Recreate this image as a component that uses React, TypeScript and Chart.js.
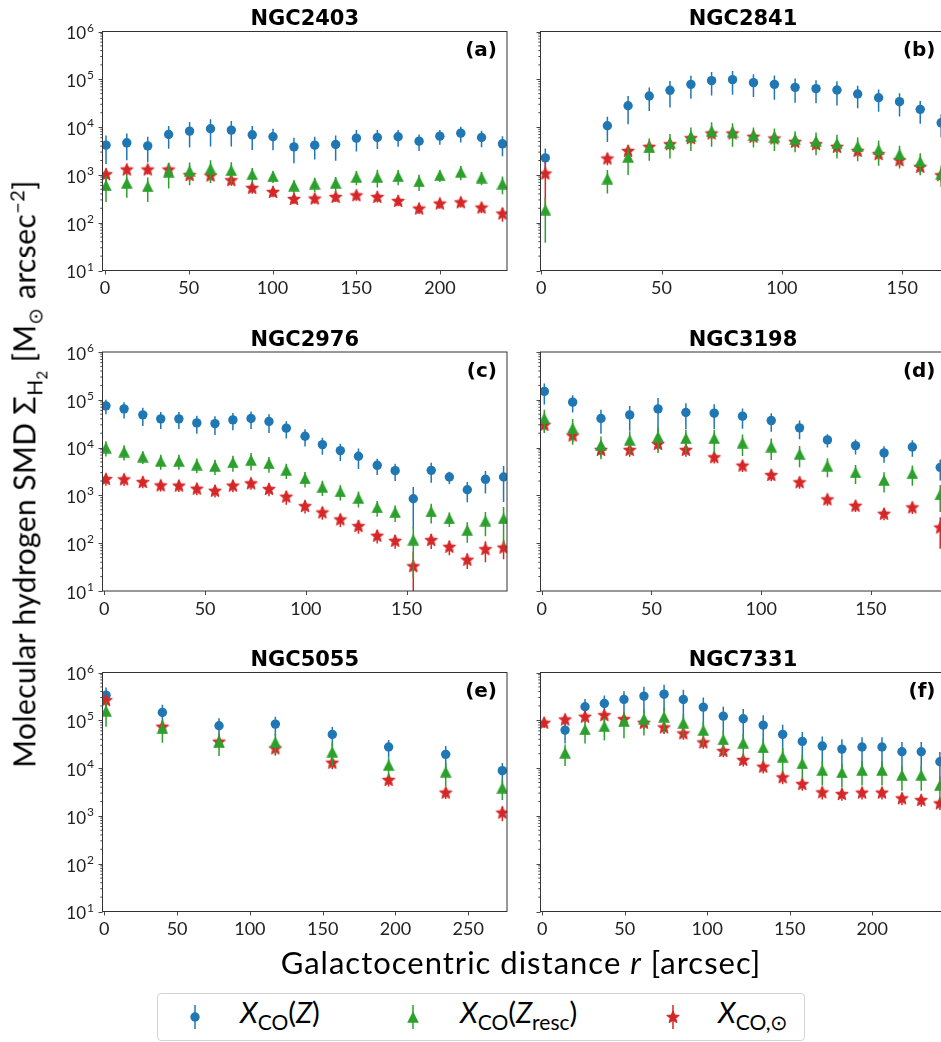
import React, { useEffect, useRef } from 'react';
import { Chart, registerables } from 'chart.js';

Chart.register(...registerables);

const FONT = "Lato, 'Open Sans', sans-serif";
const TITLE_FONT = "'DejaVu Sans', sans-serif";
const BLUE = '#1f77b4';
const GREEN = '#2ca02c';
const RED = '#d62728';

const titles = ['NGC2403', 'NGC2841', 'NGC2976', 'NGC3198', 'NGC5055', 'NGC7331'];
const tags = ['(a)', '(b)', '(c)', '(d)', '(e)', '(f)'];
const yDecades = [1, 2, 3, 4, 5, 6];
const yMinorMultipliers = [2, 3, 4, 5, 6, 7, 8, 9];
const xTickStep = 50;

// ---------- (a) NGC2403 ----------
const rA = [0.6, 13.0, 25.5, 38.0, 50.5, 63.0, 75.4, 87.9, 100.3, 112.8, 125.2, 137.7, 150.1, 162.6, 175.0, 187.5, 199.9, 212.4, 224.8, 237.3];
const blueA = [4190, 4690, 4050, 7010, 8240, 9230, 8650, 6900, 6270, 3860, 4190, 4330, 5870, 6070, 6270, 5080, 6470, 7480, 6070, 4470];
const blueErrA = [2500, 2670, 2220, 3500, 4500, 5300, 4700, 3600, 3000, 2100, 2100, 2350, 2800, 2600, 2400, 1900, 2200, 2700, 2300, 2000];
const greenA = [607, 680, 578, 1157, 1213, 1358, 1253, 1033, 938, 597, 658, 680, 908, 908, 938, 736, 984, 1157, 879, 658];
const greenErrA = [335, 346, 306, 640, 606, 678, 595, 353, 258, 178, 218, 219, 300, 366, 331, 275, 271, 384, 272, 265];
const redA = [1033, 1294, 1294, 1294, 990, 970, 773, 534, 440, 314, 319, 345, 374, 345, 285, 197, 251, 267, 207, 155];
const redErrA = [320, 300, 280, 280, 250, 230, 180, 130, 100, 70, 70, 75, 85, 80, 65, 45, 55, 60, 50, 50];

// ---------- (b) NGC2841 ----------
const rB = [1.7, 27.5, 36.1, 44.9, 53.5, 62.2, 70.8, 79.5, 88.2, 96.9, 105.5, 114.2, 122.9, 131.5, 140.2, 148.9, 157.5, 166.2];
const blueB = [2270, 10660, 28000, 44700, 58800, 78500, 93700, 98400, 85100, 78500, 67900, 63700, 59700, 49200, 41200, 34000, 23500, 12300];
const blueErrB = [1300, 5800, 16500, 23000, 33000, 39500, 48000, 51000, 42700, 41000, 35500, 32000, 31500, 24500, 20300, 17300, 11800, 6200];
const greenB = [188, 837, 2390, 3860, 4690, 6470, 8240, 7980, 6790, 6270, 5600, 5160, 4540, 3990, 3400, 2720, 1910, 1067];
const greenErrB = [150, 430, 1400, 1890, 2490, 3290, 4380, 4120, 3050, 3090, 2610, 2570, 2340, 2050, 1855, 1360, 926, 507];
const redB = [1067, 2200, 3180, 3860, 4390, 5870, 7360, 7360, 6270, 5780, 4920, 4390, 3860, 3180, 2720, 2030, 1470, 985];
const redErrB = [850, 600, 900, 1000, 1100, 1500, 1800, 1800, 1500, 1400, 1200, 1100, 1000, 800, 700, 550, 400, 280];

// ---------- (c) NGC2976 ----------
const rC = [0.8, 9.8, 19.1, 28.0, 37.0, 45.9, 54.9, 63.8, 72.8, 81.7, 90.3, 99.6, 108.2, 117.1, 126.1, 135.4, 144.3, 153.3, 162.2, 171.2, 180.1, 189.1, 198.1];
const blueC = [74800, 64700, 48400, 39900, 39900, 32900, 31800, 38000, 40600, 35100, 25500, 17300, 11550, 8650, 6580, 4260, 3290, 851, 3340, 2430, 1315, 2170, 2430];
const blueErrC = [25000, 24000, 20000, 15500, 15500, 13500, 13500, 15000, 16000, 15000, 10000, 6800, 4500, 3400, 3000, 1600, 1300, 650, 1500, 700, 600, 1080, 1700];
const greenC = [10000, 8240, 6470, 5250, 5250, 4400, 4120, 4920, 5510, 4690, 3400, 2270, 1500, 1210, 880, 560, 447, 119, 462, 329, 188, 295, 329];
const greenErrC = [3500, 2900, 1930, 1800, 1800, 1500, 1450, 1800, 2200, 1700, 1200, 800, 530, 430, 320, 204, 170, 100, 205, 110, 86, 155, 240];
const redC = [2200, 2170, 1905, 1620, 1600, 1380, 1250, 1600, 1790, 1360, 938, 597, 440, 314, 228, 143, 112, 33, 116, 84, 45, 75, 81];
const redErrC = [600, 600, 500, 420, 420, 370, 350, 430, 480, 400, 300, 180, 130, 95, 70, 45, 35, 34, 40, 28, 16, 35, 35];

// ---------- (d) NGC3198 ----------
const rD = [1.2, 14.1, 27.0, 40.1, 53.0, 65.7, 78.6, 91.5, 104.6, 117.5, 130.2, 143.0, 156.0, 168.9, 181.6];
const blueD = [149700, 89300, 40600, 48400, 64700, 54200, 52500, 45400, 36800, 25900, 14500, 11000, 7730, 10300, 3860];
const blueErrD = [70000, 35000, 21000, 26000, 44000, 30000, 28000, 20500, 15400, 10900, 4500, 3800, 2900, 3900, 1800];
const greenD = [41200, 25500, 11400, 14500, 17000, 15700, 15700, 12700, 10500, 7360, 4190, 3040, 2100, 2900, 1050];
const greenErrD = [21000, 14000, 5700, 7500, 9300, 8000, 8000, 6000, 5000, 3500, 1800, 1300, 950, 1300, 600];
const redD = [29900, 17900, 8940, 8940, 11900, 8940, 6270, 4190, 2670, 1880, 825, 607, 412, 560, 213];
const redErrD = [8000, 5000, 2500, 2500, 3200, 2500, 1600, 1100, 700, 500, 220, 160, 110, 150, 136];

// ---------- (e) NGC5055 ----------
const rE = [1.2, 39.9, 78.8, 117.5, 156.6, 195.3, 234.5, 273.4];
const blueE = [336000, 146000, 76900, 83300, 50700, 27600, 19400, 8830];
const blueErrE = [150000, 65000, 34000, 36000, 22000, 11000, 9500, 3900];
const greenE = [158000, 67600, 35600, 35100, 22000, 11600, 8410, 3900];
const greenErrE = [85000, 33600, 17700, 17000, 11000, 5000, 4300, 1750];
const redE = [264000, 73300, 35600, 25800, 12970, 5640, 3060, 1170];
const redErrE = [70000, 20000, 9000, 7000, 3500, 1500, 800, 400];

// ---------- (f) NGC7331 ----------
const rF = [1.1, 13.8, 25.9, 37.6, 49.5, 61.6, 73.8, 85.5, 97.6, 109.7, 121.8, 133.9, 145.7, 157.6, 169.7, 181.6, 193.8, 205.9, 218.0, 229.7, 241.0];
const blueF = [null, 62400, 192000, 225000, 273000, 321000, 352000, 273000, 189000, 122000, 108000, 79400, 50700, 36200, 28900, 25000, 27600, 27600, 22000, 22000, 13600];
const blueErrF = [null, 29500, 88000, 105000, 130000, 180000, 200000, 165000, 112000, 70000, 65000, 48000, 30000, 21000, 17000, 15000, 16500, 16500, 13000, 13000, 8000];
const greenF = [null, 21000, 64400, 75700, 96200, 108000, 119000, 88700, 62400, 39800, 34000, 27100, 17300, 12600, 9120, 8150, 9120, 9120, 7160, 7160, 4430];
const greenErrF = [null, 10000, 31500, 38000, 54000, 60000, 66000, 45000, 33000, 21000, 18000, 14000, 9000, 6500, 4800, 4200, 4800, 4800, 3800, 3800, 2300];
const redF = [88700, 104000, 119000, 128000, 106000, 88700, 71000, 53200, 34500, 22800, 14800, 10700, 6400, 4640, 3110, 2870, 3060, 3060, 2330, 2150, 1830];
const redErrF = [20000, 25000, 30000, 32000, 28000, 24000, 19000, 14000, 9000, 6000, 4000, 3000, 1800, 1300, 900, 800, 850, 850, 650, 600, 500];

const xLimits = [[-1.5, 240], [-0.3, 168], [-0.9, 199.8], [-0.55, 184], [-1.24, 276.6], [-1.1, 244.4]];
const yLimits = [10, 1e6];

const PANELS = [
  { r: rA, blue: blueA, blueErr: blueErrA, green: greenA, greenErr: greenErrA, red: redA, redErr: redErrA },
  { r: rB, blue: blueB, blueErr: blueErrB, green: greenB, greenErr: greenErrB, red: redB, redErr: redErrB },
  { r: rC, blue: blueC, blueErr: blueErrC, green: greenC, greenErr: greenErrC, red: redC, redErr: redErrC },
  { r: rD, blue: blueD, blueErr: blueErrD, green: greenD, greenErr: greenErrD, red: redD, redErr: redErrD },
  { r: rE, blue: blueE, blueErr: blueErrE, green: greenE, greenErr: greenErrE, red: redE, redErr: redErrE },
  { r: rF, blue: blueF, blueErr: blueErrF, green: greenF, greenErr: greenErrF, red: redF, redErr: redErrF },
];

// ---------- layout ----------
const COL_CANVAS_LEFT = [0, 520];
const COL_CANVAS_W = [520, 430];
const COL_AREA_LEFT = [102.5, 540.5];
const COL_AREA_W = [404.5, 405];
const ROW_CANVAS_TOP = [0, 320, 640];
const ROW_AREA_TOP = [31.5, 352, 672.5];
const AREA_H = 239;
const CANVAS_H = 320;

function starPts(cx: number, cy: number, R: number, r: number): [number, number][] {
  const pts: [number, number][] = [];
  for (let i = 0; i < 10; i++) {
    const ang = -Math.PI / 2 + (i * Math.PI) / 5;
    const rad = i % 2 === 0 ? R : r;
    pts.push([cx + rad * Math.cos(ang), cy + rad * Math.sin(ang)]);
  }
  return pts;
}

function xTickValues(idx: number): number[] {
  const [xmin, xmax] = xLimits[idx];
  const out: number[] = [];
  for (let v = Math.ceil(xmin / xTickStep) * xTickStep; v <= xmax; v += xTickStep) out.push(v);
  return out;
}

let markerCache: any = null;
function markers() {
  if (markerCache) return markerCache;
  const tri = document.createElement('canvas');
  tri.width = 12; tri.height = 12;
  let c = tri.getContext('2d')!;
  c.fillStyle = GREEN;
  c.beginPath(); c.moveTo(6, 0.2); c.lineTo(0.2, 11.8); c.lineTo(11.8, 11.8); c.closePath(); c.fill();
  const star = document.createElement('canvas');
  star.width = 16; star.height = 16;
  c = star.getContext('2d')!;
  c.fillStyle = RED;
  c.strokeStyle = RED;
  c.lineWidth = 1;
  c.lineJoin = 'miter';
  c.beginPath();
  starPts(8, 8.4, 6.6, 2.9).forEach(([x, y], i) => (i === 0 ? c.moveTo(x, y) : c.lineTo(x, y)));
  c.closePath(); c.fill(); c.stroke();
  markerCache = { tri, star };
  return markerCache;
}

function Panel({ idx }: { idx: number }) {
  const ref = useRef<HTMLCanvasElement>(null);
  const col = idx % 2;
  const row = Math.floor(idx / 2);
  const cl = COL_CANVAS_LEFT[col];
  const cw = COL_CANVAS_W[col];
  useEffect(() => {
    const p = PANELS[idx];
    const yW = COL_AREA_LEFT[col] - cl;
    const padR = cw - yW - COL_AREA_W[col];
    const padT = ROW_AREA_TOP[row] - ROW_CANVAS_TOP[row];
    const xH = CANVAS_H - padT - AREA_H;
    const mk = markers();
    const ticksX = xTickValues(idx);
    const series = (vals: (number | null)[], errs: (number | null)[], color: string, style: any, radius: number, label: string) => {
      const data: any[] = [];
      const e: number[] = [];
      p.r.forEach((x, i) => {
        if (vals[i] != null) {
          data.push({ x, y: vals[i] });
          e.push(errs[i] as number);
        }
      });
      return {
        label, data, errs: e,
        backgroundColor: color, borderColor: color,
        pointStyle: style, pointRadius: radius, pointBorderWidth: 0,
        showLine: false, clip: 0,
      };
    };
    const datasets = [
      series(p.green, p.greenErr, GREEN, mk.tri, 6, 'XCO(Zresc)'),
      series(p.red, p.redErr, RED, mk.star, 8, 'XCO,sun'),
      series(p.blue, p.blueErr, BLUE, 'circle', 4.7, 'XCO(Z)'),
    ];
    const decor = {
      id: 'decor',
      beforeDatasetDraw(chart: any, args: any) {
        const ds = chart.data.datasets[args.index];
        const { ctx, chartArea: a } = chart;
        const xs = chart.scales.x, ys = chart.scales.y;
        ctx.save();
        ctx.beginPath();
        ctx.rect(a.left, a.top, a.right - a.left, a.bottom - a.top);
        ctx.clip();
        ctx.strokeStyle = ds.backgroundColor;
        ctx.lineWidth = 1.5;
        ds.data.forEach((pt: any, i: number) => {
          const e = ds.errs[i];
          const px = xs.getPixelForValue(pt.x);
          const top = ys.getPixelForValue(pt.y + e);
          const bot = pt.y - e > 0 ? ys.getPixelForValue(pt.y - e) : a.bottom + 5;
          ctx.beginPath();
          ctx.moveTo(px, top);
          ctx.lineTo(px, bot);
          ctx.stroke();
        });
        ctx.restore();
      },
      afterDraw(chart: any) {
        const { ctx, chartArea: a } = chart;
        const xs = chart.scales.x, ys = chart.scales.y;
        ctx.save();
        ctx.strokeStyle = '#333';
        ctx.lineWidth = 1;
        ctx.strokeRect(a.left, a.top, a.right - a.left, a.bottom - a.top);
        ctx.lineWidth = 0.9;
        yDecades.forEach((k) => {
          const py = Math.round(ys.getPixelForValue(Math.pow(10, k))) + 0.5;
          ctx.beginPath(); ctx.moveTo(a.left - 4, py); ctx.lineTo(a.left, py); ctx.stroke();
          if (k < 6) {
            yMinorMultipliers.forEach((m) => {
              const pm = ys.getPixelForValue(m * Math.pow(10, k));
              ctx.beginPath(); ctx.moveTo(a.left - 2.2, pm); ctx.lineTo(a.left, pm); ctx.stroke();
            });
          }
        });
        ticksX.forEach((v) => {
          const px = Math.round(xs.getPixelForValue(v)) + 0.5;
          ctx.beginPath(); ctx.moveTo(px, a.bottom); ctx.lineTo(px, a.bottom + 4); ctx.stroke();
        });
        if (col === 0) {
          ctx.fillStyle = '#222';
          ctx.textBaseline = 'alphabetic';
          ctx.textAlign = 'right';
          yDecades.forEach((k) => {
            const py = ys.getPixelForValue(Math.pow(10, k));
            const xr = a.left - 8.5;
            ctx.font = `12px ${FONT}`;
            const ew = ctx.measureText(String(k)).width;
            ctx.fillText(String(k), xr, py);
            ctx.font = `17px ${FONT}`;
            ctx.fillText('10', xr - ew - 1, py + 7.8);
          });
        }
        ctx.fillStyle = '#000';
        ctx.textAlign = 'center';
        ctx.textBaseline = 'alphabetic';
        ctx.font = `bold 21px ${TITLE_FONT}`;
        ctx.fillText(titles[idx], (a.left + a.right) / 2, a.top - 6.5);
        ctx.textAlign = 'right';
        ctx.font = `bold 20px ${TITLE_FONT}`;
        ctx.fillText(tags[idx], a.right - 10, a.top + 24.5);
        ctx.restore();
      },
    };
    const chart = new Chart(ref.current as HTMLCanvasElement, {
      type: 'scatter',
      data: { datasets: datasets as any },
      options: {
        responsive: false,
        animation: false,
        devicePixelRatio: 1,
        events: [],
        layout: { padding: { left: 0, right: padR, top: padT, bottom: 0 }, autoPadding: false },
        plugins: { legend: { display: false }, tooltip: { enabled: false }, title: { display: false } },
        scales: {
          x: {
            type: 'linear',
            min: xLimits[idx][0],
            max: xLimits[idx][1],
            afterFit: (s: any) => { s.height = xH; },
            afterBuildTicks: (s: any) => { s.ticks = ticksX.map((v) => ({ value: v })); },
            grid: { display: false, drawTicks: true, tickLength: 4 },
            border: { display: false },
            ticks: {
              autoSkip: false,
              maxRotation: 0,
              padding: 3,
              color: '#222',
              font: { family: FONT, size: 18 },
              callback: (v: any) => String(v),
            },
          },
          y: {
            type: 'logarithmic',
            min: yLimits[0],
            max: yLimits[1],
            afterFit: (s: any) => { s.width = yW; },
            grid: { display: false, drawTicks: false },
            border: { display: false },
            ticks: { display: false },
          },
        },
      } as any,
      plugins: [decor],
    });
    return () => chart.destroy();
  }, [idx]);
  return (
    <canvas
      ref={ref}
      width={cw}
      height={CANVAS_H}
      style={{ position: 'absolute', left: cl, top: ROW_CANVAS_TOP[row], width: cw, height: CANVAS_H }}
    />
  );
}

function LegendGlyph({ kind, color, cx, cy }: { kind: string; color: string; cx: number; cy: number }) {
  let shape: any;
  if (kind === 'circle') shape = <circle cx={10} cy={15} r={4.7} fill={color} />;
  else if (kind === 'tri') shape = <polygon points="10,9.2 4.2,20.8 15.8,20.8" fill={color} />;
  else shape = <polygon points={starPts(10, 15.4, 6.6, 2.9).map((q) => q.join(',')).join(' ')} fill={color} stroke={color} strokeWidth={1} />;
  return (
    <svg width={20} height={30} style={{ position: 'absolute', left: cx - 10, top: cy - 15 }}>
      <line x1={10} x2={10} y1={3} y2={27} stroke={color} strokeWidth={1.5} />
      {shape}
    </svg>
  );
}

const legendTextStyle: any = { position: 'absolute', top: 0, fontFamily: FONT, fontSize: 29, lineHeight: '40px', whiteSpace: 'nowrap', color: '#000' };
const subStyle: any = { fontSize: 21, verticalAlign: -7 };

export default function App() {
  return (
    <div style={{ position: 'fixed', left: 0, top: 0, width: 941, height: 1042, overflow: 'hidden', background: '#fff' }}>
      {PANELS.map((_, i) => <Panel key={i} idx={i} />)}
      <div
        style={{
          position: 'absolute', left: 28, top: 474, transform: 'translate(-50%, -50%) rotate(-90deg)',
          whiteSpace: 'nowrap', fontFamily: FONT, fontSize: 30, color: '#000', lineHeight: 1, letterSpacing: 0.4,
        }}
      >
        Molecular hydrogen SMD Σ<sub style={{ fontSize: 21 }}>H<sub style={{ fontSize: 15 }}>2</sub></sub> [M<sub style={{ fontSize: 20 }}>⊙</sub> arcsec<sup style={{ fontSize: 20 }}>−2</sup>]
      </div>
      <div
        style={{
          position: 'absolute', left: 521, top: 962, transform: 'translate(-50%, -50%)',
          whiteSpace: 'nowrap', fontFamily: FONT, fontSize: 31, color: '#000', lineHeight: 1, letterSpacing: 1,
        }}
      >
        Galactocentric distance <i>r</i> [arcsec]
      </div>
      <div
        style={{
          position: 'absolute', left: 157, top: 993, width: 648, height: 48, boxSizing: 'border-box',
          border: '1px solid #d4d4d4', borderRadius: 4, background: '#fff',
        }}
      />
      <LegendGlyph kind="circle" color={BLUE} cx={195} cy={1017} />
      <LegendGlyph kind="tri" color={GREEN} cx={413} cy={1017} />
      <LegendGlyph kind="star" color={RED} cx={673} cy={1017} />
      <div style={{ ...legendTextStyle, left: 240, top: 992 }}>
        <i>X</i><span style={subStyle}>CO</span>(<i>Z</i>)
      </div>
      <div style={{ ...legendTextStyle, left: 460, top: 992 }}>
        <i>X</i><span style={subStyle}>CO</span>(<i>Z</i><span style={subStyle}>resc</span>)
      </div>
      <div style={{ ...legendTextStyle, left: 718, top: 992 }}>
        <i>X</i><span style={subStyle}>CO,⊙</span>
      </div>
    </div>
  );
}
